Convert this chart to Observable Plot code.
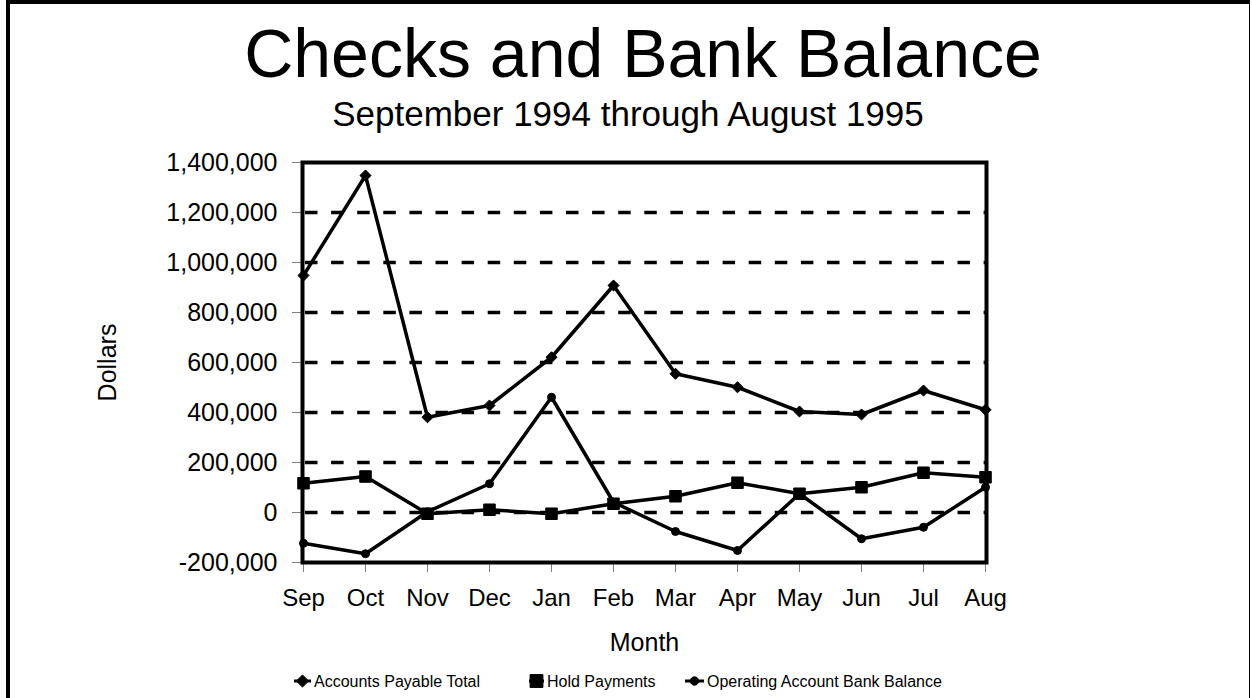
<!DOCTYPE html>
<html><head><meta charset="utf-8">
<script src="https://cdn.jsdelivr.net/npm/d3@7"></script>
<script src="https://cdn.jsdelivr.net/npm/@observablehq/plot@0.6"></script>
<style>
html,body{margin:0;padding:0;background:#fff;}
#page{position:relative;width:1252px;height:698px;overflow:hidden;font-family:"Liberation Sans",Arial,sans-serif;color:#000;}
#border{position:absolute;left:6px;top:0;width:1244px;height:760px;border-left:4px solid #000;border-top:4px solid #000;border-right:1px solid #000;box-sizing:border-box;}
#title{position:absolute;left:17px;top:19px;width:1252px;text-align:center;font-size:68px;line-height:68px;white-space:nowrap;}
#subtitle{position:absolute;left:2px;top:96px;width:1252px;text-align:center;font-size:35px;line-height:35px;white-space:nowrap;}
#chart{position:absolute;left:0;top:140px;}
.leg{position:absolute;top:674px;font-size:16px;line-height:16px;white-space:nowrap;}
#legsw{position:absolute;left:0;top:660px;}
</style>
</head><body>
<div id="page">
  <div id="border"></div>
  <div id="title">Checks and Bank Balance</div>
  <div id="subtitle">September 1994 through August 1995</div>
  <div id="chart"></div>
  <svg id="legsw" width="1252" height="38"></svg>
  <div class="leg" style="left:314px">Accounts Payable Total</div>
  <div class="leg" style="left:547px">Hold Payments</div>
  <div class="leg" style="left:707px">Operating Account Bank Balance</div>
</div>
<script>
const months = ["Sep","Oct","Nov","Dec","Jan","Feb","Mar","Apr","May","Jun","Jul","Aug"];
const seriesNames = ["Accounts Payable Total","Hold Payments","Operating Account Bank Balance"];
const accountsPayable = [948000,1348000,381000,428000,621000,908000,555000,501000,404000,392000,488000,411000];
const holdPayments = [117000,144000,-5000,11000,-5000,35000,65000,119000,75000,101000,159000,141000];
const operatingBalance = [-123000,-165000,3000,115000,461000,41000,-76000,-152000,75000,-105000,-59000,101000];
const yTicks = [-200000,0,200000,400000,600000,800000,1000000,1200000,1400000];
const gridValues = [0,200000,400000,600000,800000,1000000,1200000];

const seriesValues = [accountsPayable, holdPayments, operatingBalance];
const data = seriesNames.flatMap((s, k) => months.map((m, i) => ({series: s, month: m, value: seriesValues[k][i]})));
const bySeries = s => data.filter(d => d.series === s);
const fmt = d => d.toLocaleString("en-US");

const chart = Plot.plot({
  width: 1252, height: 520,
  marginLeft: 302, marginRight: 266, marginTop: 22, marginBottom: 98,
  style: {fontFamily: "Liberation Sans, Arial, sans-serif", color: "black", background: "transparent", overflow: "visible"},
  x: {type: "point", domain: months, padding: 0},
  y: {domain: [-200000, 1400000]},
  marks: [
    Plot.ruleY(gridValues, {stroke: "black", strokeWidth: 3.5, strokeDasharray: "12.5,13.6", strokeDashoffset: -3}),
    Plot.axisY({ticks: yTicks, tickSize: 10, tickPadding: 15, tickFormat: fmt, fontSize: 25, stroke: "#808080", fill: "black", label: null}),
    Plot.axisX({ticks: months, tickSize: 10, tickPadding: 16, fontSize: 24, stroke: "#808080", fill: "black", label: null}),
    Plot.frame({stroke: "black", strokeWidth: 4}),
    Plot.line(data, {x: "month", y: "value", z: "series", stroke: "black", strokeWidth: 3.5}),
    Plot.dot(bySeries(seriesNames[0]), {x: "month", y: "value", symbol: "diamond2", r: 5, fill: "black", stroke: "black", strokeWidth: 1}),
    Plot.dot(bySeries(seriesNames[1]), {x: "month", y: "value", symbol: "square", r: 6.5, fill: "black", stroke: "black", strokeWidth: 1}),
    Plot.dot(bySeries(seriesNames[2]), {x: "month", y: "value", symbol: "circle", r: 4, fill: "black", stroke: "black", strokeWidth: 1}),
    Plot.text(["Dollars"], {text: d => d, frameAnchor: "left", dx: -195, rotate: -90, fontSize: 25, textAnchor: "middle", lineAnchor: "middle"}),
    Plot.text(["Month"], {text: d => d, frameAnchor: "bottom", dy: 80, fontSize: 25, textAnchor: "middle", lineAnchor: "middle"})
  ]
});
document.getElementById("chart").appendChild(chart);

// legend swatches
const sw = d3.select("#legsw");
const legendItems = [
  {x1: 294, x2: 311, cx: 302.5, sym: d3.symbolDiamond2, size: 95},
  {x1: 529, x2: 544, cx: 536.5, sym: d3.symbolSquare, size: 165},
  {x1: 685, x2: 704, cx: 694.5, sym: d3.symbolCircle, size: 55}
];
legendItems.forEach(it => {
  sw.append("line").attr("x1", it.x1).attr("x2", it.x2).attr("y1", 21).attr("y2", 21).attr("stroke", "black").attr("stroke-width", 3);
  sw.append("path").attr("d", d3.symbol(it.sym, it.size)()).attr("transform", `translate(${it.cx},21)`).attr("fill", "black").attr("stroke", "black");
});
</script>
</body></html>
